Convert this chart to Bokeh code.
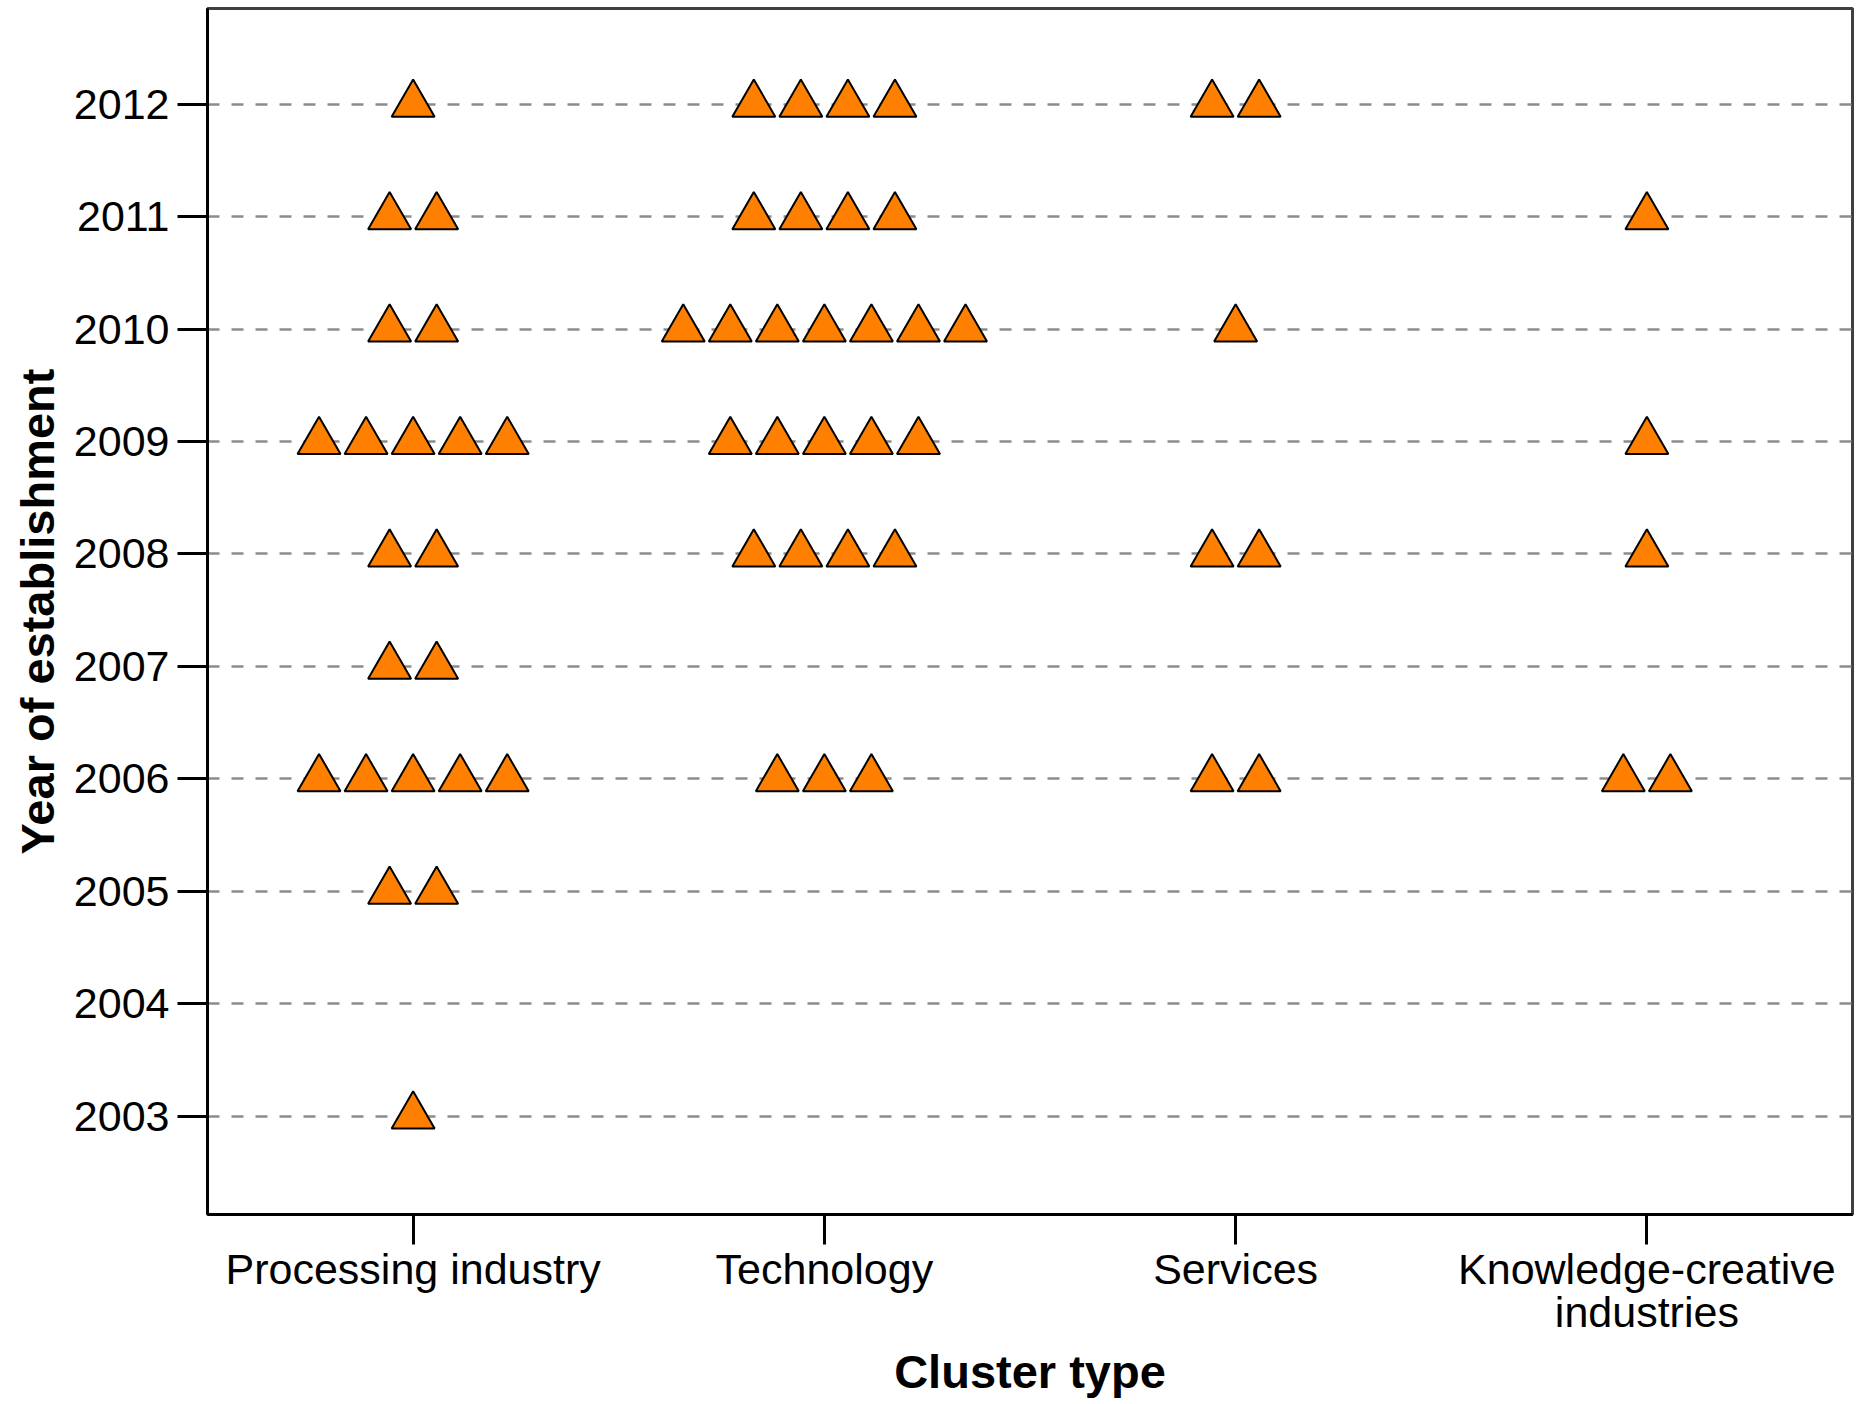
from bokeh.plotting import figure
from bokeh.models import Range1d, FixedTicker, ColumnDataSource
from bokeh.embed import file_html
from bokeh.resources import INLINE

categories = ["Processing industry", "Technology", "Services", "Knowledge-creative industries"]
category_tick_labels = ["Processing industry", "Technology", "Services", "Knowledge-creative\nindustries"]
years = [2003, 2004, 2005, 2006, 2007, 2008, 2009, 2010, 2011, 2012]
processing_counts = [1, 0, 2, 5, 2, 2, 5, 2, 2, 1]
technology_counts = [0, 0, 0, 3, 0, 4, 5, 7, 4, 4]
services_counts = [0, 0, 0, 2, 0, 2, 0, 1, 0, 2]
knowledge_counts = [0, 0, 0, 2, 0, 1, 1, 0, 1, 0]

counts = [processing_counts, technology_counts, services_counts, knowledge_counts]

STEP = 0.1144  # dot spacing in category units
xs, ys = [], []
for ci, cat in enumerate(categories):
    for yr, n in zip(years, counts[ci]):
        for j in range(n):
            xs.append(ci + 0.5 + (j - (n - 1) / 2) * STEP)
            ys.append(yr)
src = ColumnDataSource(data=dict(x=xs, y=ys))

cat_centers = [i + 0.5 for i in range(len(categories))]

p = figure(
    width=1857, height=1400,
    x_range=Range1d(0, len(categories)),
    y_range=Range1d(2002.125, 2012.852),
    output_backend="svg", toolbar_location=None,
    min_border_left=207, min_border_right=5, min_border_top=8, min_border_bottom=186,
)
p.background_fill_color = "white"
p.border_fill_color = "white"
p.outline_line_color = "#404040"
p.outline_line_width = 3

p.scatter("x", "y", source=src, marker="triangle", size=43,
          fill_color="#ff8000", line_color="black", line_width=2)

p.xgrid.visible = False
p.ygrid.ticker = FixedTicker(ticks=years)
p.ygrid.grid_line_color = "#8c8c8c"
p.ygrid.grid_line_width = 2.5
p.ygrid.grid_line_dash = "12 12"

p.yaxis.ticker = FixedTicker(ticks=years)
p.xaxis.ticker = FixedTicker(ticks=cat_centers)
p.xaxis.major_label_overrides = {c: lab for c, lab in zip(cat_centers, category_tick_labels)}

for ax in (p.xaxis[0], p.yaxis[0]):
    ax.minor_tick_line_color = None
    ax.axis_line_color = "black"
    ax.axis_line_width = 3
    ax.major_tick_line_color = "black"
    ax.major_tick_line_width = 3
    ax.major_tick_in = 0
    ax.major_tick_out = 30
    ax.major_label_text_font = "Liberation Sans"
    ax.major_label_text_font_size = "43px"
    ax.major_label_text_line_height = 0.9
    ax.major_label_text_color = "black"
    ax.axis_label_text_font = "Liberation Sans"
    ax.axis_label_text_font_size = "47px"
    ax.axis_label_text_font_style = "bold"
    ax.axis_label_text_line_height = 1.0
    ax.axis_label_text_color = "black"

p.xaxis.axis_label = "Cluster type"
p.yaxis.axis_label = "Year of establishment"
p.xaxis.major_label_standoff = 0
p.yaxis.major_label_standoff = 8
p.xaxis.axis_label_standoff = 6
p.yaxis.axis_label_standoff = 7

open("out.html", "w").write(file_html(p, INLINE))
